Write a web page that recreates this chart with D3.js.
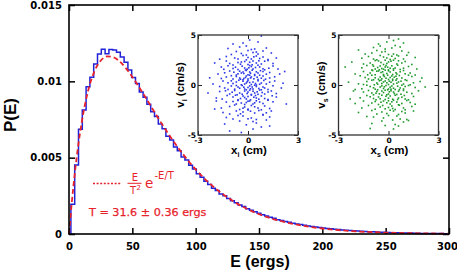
<!DOCTYPE html>
<html>
<head>
<meta charset="utf-8">
<script src="https://cdn.jsdelivr.net/npm/d3@7"></script>
<style>
body { margin: 0; background: #fff; }
svg { display: block; }
</style>
</head>
<body>
<div id="chart"></div>
<script>
// energy histogram, 3 erg bins starting at 1.5 ergs
const binStart = 1.5, binWidth = 3
const histP = [
  0.00195, 0.00452, 0.00686, 0.00812, 0.00965, 0.01026, 0.01113, 0.01179, 0.01210, 0.01180,
  0.01208, 0.01205, 0.01190, 0.01160, 0.01125, 0.01075, 0.01025, 0.00985, 0.00930, 0.00895,
  0.00850, 0.00800, 0.00770, 0.00720, 0.00690, 0.00640, 0.00615, 0.00570, 0.00545, 0.00505,
  0.00485, 0.00450, 0.00425, 0.00395, 0.00372, 0.00345, 0.00325, 0.00300, 0.00285, 0.00262,
  0.00250, 0.00232, 0.00218, 0.00205, 0.00190, 0.00180, 0.00166, 0.00156, 0.00145, 0.00136,
  0.00126, 0.00118, 0.00109, 0.00103, 0.00094, 0.00089, 0.00082, 0.00077, 0.00071, 0.00066,
  0.00062, 0.00057, 0.00053, 0.00049, 0.00046, 0.00042, 0.00040, 0.00036, 0.00034, 0.00031,
  0.00029, 0.00027, 0.00025, 0.00023, 0.00021, 0.00019, 0.00018, 0.00016, 0.00015, 0.00014,
  0.00013, 0.00012, 0.00011, 0.00010, 0.00009, 0.00008, 0.00008, 0.00007, 0.00006, 0.00006,
  0.00005, 0.00005, 0.00004, 0.00004, 0.00004, 0.00003, 0.00003, 0.00003, 0.00002
]

// fitted curve (red dashed)
const fitE = [0, 2, 5, 10, 15, 20, 25, 30, 35, 40, 45, 50, 60, 70, 80, 90, 100, 110, 120, 130, 140, 150, 160, 170, 180, 190, 200, 220, 240, 260, 280, 300]
const fitP = [0, 0.00188, 0.00428, 0.00730, 0.00935, 0.01064, 0.01135, 0.01163, 0.01158, 0.01130, 0.01085, 0.01029, 0.00900, 0.00765, 0.00637, 0.00523, 0.00423, 0.00339, 0.00270, 0.00213, 0.00167, 0.00130, 0.00101, 0.00079, 0.00061, 0.00047, 0.00036, 0.00021, 0.00012, 0.00007, 0.00004, 0.00002]

const xTicks = [0, 50, 100, 150, 200, 250, 300]
const yTicks = [0, 0.005, 0.01, 0.015]
const yTickLabels = ["0", "0.005", "0.01", "0.015"]

const insetXTicks = [-3, 0, 3]
const insetYTicks = [-5, 0, 5]

// inset scatter points, x (cm), v (cm/s) pairs
const scatterI = [
  0.8,4.9, -0.3,4.2, 0.1,4.5, 0.6,4.3, -0.9,4.1,
  0.4,3.6, -0.5,3.8, 1.1,3.7, -0.1,3.9, 0.2,3.55, -1.2,3.65,
  0.6,3.1, -0.1,3.0, -0.7,3.35, 0.9,3.4, 0.3,3.25, -0.4,3.15, 1.4,3.2, -1.0,3.05, 0.0,3.45, 0.5,3.3,
  0.9,2.8, -0.8,2.7, 0.2,2.6, 1.2,2.55, -0.3,2.95, 0.5,2.9, -1.3,2.85, 0.0,2.75, -0.6,2.6, 1.7,2.7, 0.7,2.65, -0.1,2.52, -1.7,2.58, 0.35,2.82,
  -1.3,2.4, 1.2,2.45, -0.4,2.3, 0.5,2.2, 0.0,2.05, -0.9,2.0, 1.5,2.15, -0.2,2.35, 0.8,2.1, -0.6,2.25, 0.3,2.4, -1.1,2.15, 0.1,2.28, 1.0,2.38, -0.45,2.08, 0.65,2.42, -2.0,2.2, 0.25,2.02,
  1.5,1.9, -1.6,1.8, 0.7,1.8, -0.2,1.7, 0.3,1.6, -0.6,1.55, 1.0,1.52, -0.9,1.65, 0.1,1.95, -0.35,1.88, 0.45,1.75, 1.25,1.68, -1.2,1.92, 0.9,1.62, -0.05,1.58, -0.75,1.78, 0.2,1.85, 1.8,1.6, -1.45,1.57, 0.6,1.98, -0.15,1.5, 0.05,1.72,
  -1.1,1.4, 0.1,1.3, 0.6,1.2, -0.4,1.2, -1.8,1.1, 1.9,1.1, -0.7,1.0, 0.4,1.05, -0.1,1.45, 0.9,1.35, -0.5,1.38, 1.3,1.25, 0.25,1.48, -0.85,1.28, 0.75,1.43, -0.25,1.15, 0.0,1.02, 1.1,1.08, -1.4,1.22, 0.5,1.32, -0.6,1.12, 0.15,1.18, 2.2,1.35, -0.3,1.3,
  -0.1,0.9, 0.9,0.9, -1.3,0.8, 0.2,0.8, -0.5,0.7, 1.3,0.7, 0.0,0.6, -0.9,0.6, 0.6,0.55, -0.3,0.52, 0.4,0.95, -0.7,0.85, 1.6,0.82, -1.6,0.65, 0.35,0.62, -0.15,0.75, 0.8,0.68, -1.0,0.93, 0.1,0.98, -0.45,0.58, 1.05,0.58, 0.55,0.78, -0.25,0.65, 0.7,0.98, -2.3,0.72, 0.15,0.7,
  1.6,0.4, -1.5,0.4, 0.3,0.3, -0.7,0.3, 0.8,0.2, -0.1,0.2, -2.1,0.1, 1.1,0.1, 0.5,0.0, -0.4,0.02, 0.0,0.45, -0.9,0.15, 0.2,0.05, -0.3,0.38, 0.6,0.42, 1.3,0.28, -1.2,0.22, 0.1,0.25, -0.55,0.48, 0.95,0.46, -0.2,0.1, 0.45,0.15, -1.0,0.42, 0.7,0.08, -0.05,0.33, 2.1,0.18,
  -1.0,-0.1, 0.1,-0.1, 0.9,-0.2, -0.6,-0.2, 2.0,-0.3, -1.4,-0.3, 0.3,-0.4, -0.2,-0.4, 0.0,-0.25, 0.5,-0.15, -0.35,-0.05, 1.2,-0.45, -0.8,-0.42, 0.65,-0.35, -0.1,-0.48, 0.25,-0.2, -1.7,-0.15, 1.5,-0.08, -0.5,-0.32, 0.8,-0.48, 0.4,-0.02, -0.25,-0.22, 1.0,-0.3, -1.2,-0.45, 0.15,-0.38, -0.7,-0.05,
  0.7,-0.5, -0.8,-0.55, 1.4,-0.6, -1.7,-0.65, 0.0,-0.7, 0.4,-0.8, -0.5,-0.8, 1.0,-0.9, -1.1,-0.9, 0.2,-0.95, -0.2,-0.6, 0.55,-0.68, -0.35,-0.92, 0.85,-0.75, -0.95,-0.72, 0.1,-0.52, 1.7,-0.85, -1.35,-0.58, 0.3,-0.62, -0.65,-0.98, 0.6,-0.93, -0.05,-0.85, 1.2,-0.7, -2.4,-0.8,
  0.2,-1.0, -0.3,-1.1, 0.8,-1.1, -0.9,-1.2, 1.7,-1.2, -1.9,-1.3, 0.5,-1.3, -0.1,-1.4, 1.2,-1.45, -0.6,-1.48, 0.35,-1.22, -0.45,-1.35, 0.0,-1.15, 1.0,-1.35, -1.25,-1.05, 0.65,-1.42, -0.2,-1.25, 0.15,-1.48, -0.75,-1.02, 1.45,-1.08, -1.55,-1.4, 0.45,-1.05,
  0.1,-1.6, -1.3,-1.7, 0.7,-1.7, -0.4,-1.8, 2.3,-1.9, 0.3,-1.9, -0.6,-1.55, 1.2,-1.52, -0.1,-1.75, 0.5,-1.58, -0.9,-1.65, 0.9,-1.85, -0.2,-1.95, 1.5,-1.68, -1.9,-1.6, 0.0,-1.62, -0.7,-1.9, 0.4,-1.78,
  -0.8,-2.0, 1.0,-2.1, -0.2,-2.2, -1.6,-2.3, 0.6,-2.3, -2.0,-2.4, 0.2,-2.05, -0.5,-2.45, 1.3,-2.35, 0.0,-2.42, -1.1,-2.15, 0.8,-2.48, 0.4,-2.18, -0.3,-2.32,
  0.0,-2.5, 1.4,-2.6, -0.7,-2.6, 0.4,-2.8, -1.1,-2.9, 0.9,-2.95, -0.3,-2.7, 0.15,-2.62, -1.5,-2.75, 0.65,-2.55, -0.45,-2.88, 1.1,-2.78,
  0.9,-3.0, -0.3,-3.1, 0.2,-3.3, -0.9,-3.4, 1.3,-3.2, 0.5,-3.45, -0.6,-3.05, -1.3,-3.25, 0.0,-3.38,
  1.1,-3.5, -0.5,-3.6, 0.5,-3.8, -1.4,-3.9, -0.1,-3.98, 0.3,-3.65,
  0.8,-4.2, -1.1,-4.6, 0.3,-4.4, 1.3,-4.1, -0.4,-4.75
]

const scatterS = [
  0.6,4.6, -0.1,4.3, 0.3,4.45, -0.6,4.1, 0.9,4.2,
  -0.5,3.9, 0.2,3.7, -1.8,3.5, 0.7,3.8, -0.2,3.6, 0.4,3.95, -0.9,3.75,
  -0.4,3.3, 0.3,3.1, -1.0,3.2, 0.8,3.4, 0.0,3.05, -0.7,3.45, 1.2,3.25, -0.2,3.35, 0.5,3.0, -1.4,3.1,
  -0.3,2.8, 0.6,2.9, -0.9,2.6, 1.6,2.75, 0.1,2.55, -0.5,2.95, 0.4,2.65, -1.2,2.85, 0.9,2.6, -0.1,2.7, -0.7,2.52, 0.2,2.88, 1.1,2.98, -1.6,2.68,
  -0.6,2.4, 0.0,2.3, -1.1,2.2, 0.5,2.1, -0.3,2.05, 1.0,2.35, -0.8,2.45, 0.3,2.48, -1.5,2.1, 0.8,2.2, -0.1,2.15, -0.45,2.25, 1.4,2.05, 0.15,2.38, -0.95,2.02, 0.6,2.42, -2.2,2.3, -0.2,2.48,
  -0.5,1.9, -0.2,1.8, 0.4,1.7, -0.8,1.6, -1.3,1.95, 0.7,1.55, -0.4,1.65, 0.0,1.52, -0.65,1.75, 1.2,1.85, -1.0,1.5, 0.2,1.92, -0.3,1.58, 0.9,1.68, -1.6,1.72, -0.05,1.78, 0.55,1.98, -0.9,1.88, -2.6,1.8, 0.3,1.62, -0.55,1.52, 1.7,1.6, -0.15,1.95, 0.1,1.68,
  -0.6,1.4, 0.1,1.3, -1.1,1.2, 0.5,1.1, -0.3,1.05, 0.9,1.45, -0.8,1.02, 0.3,1.48, -1.5,1.35, 1.3,1.2, -0.1,1.15, -0.45,1.25, 0.7,1.32, -2.0,1.1, 0.0,1.42, -0.7,1.38, 1.6,1.0, 0.25,1.05, -0.2,1.48, -1.25,1.02, 0.45,1.22, -0.95,1.45, 1.0,1.12, -0.35,1.32,
  0.2,0.9, -0.5,0.8, 0.8,0.7, -1.2,0.6, 0.0,0.55, -0.3,0.95, 1.4,0.85, 0.5,0.62, -0.8,0.72, -1.7,0.92, 0.35,0.78, -0.15,0.68, 1.0,0.52, -0.6,0.58, 0.1,0.75, -1.0,0.98, 0.65,0.95, -0.4,0.62, 2.0,0.7, -0.9,0.52, 0.25,0.58, -0.25,0.85, 1.2,0.98, -1.4,0.75, 0.45,0.88, -0.05,0.98,
  -0.2,0.4, 0.6,0.3, -0.7,0.2, 0.3,0.1, -1.3,0.35, 1.1,0.45, 0.0,0.05, -0.4,0.15, 0.9,0.1, -1.0,0.48, 0.15,0.28, -0.55,0.42, 1.5,0.22, -1.8,0.12, 0.45,0.48, -0.1,0.22, 0.75,0.38, -0.85,0.02, 0.25,0.45, -0.3,0.3, 1.9,0.35, -2.4,0.28, 0.05,0.38, -0.65,0.08, 1.3,0.02, 0.5,0.18, -1.5,0.05, -0.45,0.48,
  0.2,-0.1, -0.5,-0.2, 0.7,-0.3, -1.1,-0.15, 0.0,-0.4, 1.2,-0.05, -0.3,-0.35, 0.4,-0.45, -0.8,-0.42, 1.6,-0.25, -1.6,-0.38, 0.1,-0.22, -0.15,-0.05, 0.55,-0.12, -0.65,-0.48, 0.9,-0.4, -1.3,-0.02, 0.3,-0.32, -0.4,-0.08, 2.2,-0.2, -0.05,-0.48, 0.8,-0.02, -0.9,-0.28, 0.65,-0.48, -2.0,-0.45, -0.25,-0.18, 1.0,-0.15, 0.15,-0.42,
  -0.4,-0.6, 0.3,-0.7, -1.0,-0.8, 0.9,-0.55, 0.0,-0.9, -0.7,-0.65, 1.4,-0.85, -1.5,-0.7, 0.5,-0.95, -0.2,-0.52, 0.6,-0.62, -0.9,-0.98, 0.15,-0.58, -0.55,-0.88, 1.1,-0.72, -2.1,-0.6, 0.35,-0.85, -0.3,-0.75, 0.75,-0.92, -1.2,-0.55, 0.05,-0.68, 1.8,-0.58, -0.1,-0.98, -0.75,-0.82,
  0.1,-1.1, -0.6,-1.2, 0.6,-1.3, -1.3,-1.05, 1.0,-1.4, -0.2,-1.45, 0.4,-1.02, -0.9,-1.35, 1.5,-1.15, -1.7,-1.28, -0.4,-1.02, 0.8,-1.22, 0.0,-1.32, -0.75,-1.48, 0.25,-1.42, -1.1,-1.18, 1.2,-1.48, -0.15,-1.12, 0.55,-1.45, -2.3,-1.4, 0.95,-1.05, -0.5,-1.38,
  -0.3,-1.6, 0.5,-1.7, -1.0,-1.8, 0.1,-1.9, 1.1,-1.55, -0.6,-1.95, 0.8,-1.85, -1.5,-1.6, 0.3,-1.52, -0.1,-1.78, 1.6,-1.92, -0.8,-1.65, 0.6,-1.98, -2.0,-1.85, 0.0,-1.58, -0.45,-1.72, 1.3,-1.75, 0.2,-1.68,
  0.2,-2.1, -0.5,-2.2, 0.9,-2.3, -1.2,-2.05, 0.4,-2.45, -0.2,-2.38, 1.4,-2.15, -0.8,-2.42, 0.0,-2.25, 0.65,-2.02, -1.6,-2.3, -0.35,-2.05, 1.0,-2.48, 0.25,-2.35,
  0.3,-2.6, -0.4,-2.7, 1.0,-2.8, -1.0,-2.55, 0.6,-2.95, -0.1,-2.85, 1.5,-2.6, -0.7,-2.9, 0.1,-2.52, -1.8,-2.75, 0.8,-2.65,
  0.5,-3.1, -0.3,-3.3, 1.1,-3.45, -0.9,-3.2, 0.0,-3.05, 0.7,-3.4, -1.3,-3.15, 0.25,-3.5,
  0.9,-3.7, -0.4,-3.6, 0.4,-3.95, -1.0,-3.85, 1.2,-3.55,
  0.6,-4.1, -1.1,-4.35, 0.3,-4.4, -0.2,-4.05
]

const width = 457, height = 272
const red = "#e8222b", blue = "#2121d8"
const tickFont = "DejaVu Sans, sans-serif"
const titleFont = "Liberation Sans, Arial, sans-serif"

const svg = d3.select("#chart").append("svg")
    .attr("width", width)
    .attr("height", height)

const x = d3.scaleLinear().domain([0, 300]).range([69, 449])
const y = d3.scaleLinear().domain([0, 0.015]).range([234, 5])

function styleAxis(g) {
    g.select(".domain").remove()
    g.attr("font-family", tickFont).attr("font-size", 10).attr("font-weight", "bold")
    g.selectAll(".tick line").attr("stroke", "#000").attr("stroke-width", 1.5)
    g.selectAll(".tick text").attr("fill", "#000")
}

svg.append("g").attr("transform", "translate(0,234)")
    .call(d3.axisBottom(x).tickValues(xTicks).tickSizeInner(-6).tickSizeOuter(0).tickPadding(9)
        .tickFormat(d => String(d)))
    .call(styleAxis)
    .call(g => g.selectAll(".tick text").filter(d => d === 300).attr("dx", -2))
svg.append("g").attr("transform", "translate(0,5)")
    .call(d3.axisTop(x).tickValues(xTicks).tickSizeInner(-6).tickSizeOuter(0).tickFormat(""))
    .call(styleAxis)
svg.append("g").attr("transform", "translate(69,0)")
    .call(d3.axisLeft(y).tickValues(yTicks).tickSizeInner(-6).tickSizeOuter(0).tickPadding(7)
        .tickFormat((d, i) => yTickLabels[i]))
    .call(styleAxis)
svg.append("g").attr("transform", "translate(449,0)")
    .call(d3.axisRight(y).tickValues(yTicks).tickSizeInner(-6).tickSizeOuter(0).tickFormat(""))
    .call(styleAxis)

// histogram as a step line
let steps = [[binStart, 0]]
histP.forEach((p, i) => steps.push([binStart + i * binWidth, p]))
steps.push([binStart + histP.length * binWidth, histP[histP.length - 1]])

svg.append("path")
    .datum(steps)
    .attr("fill", "none")
    .attr("stroke", blue)
    .attr("stroke-width", 1.5)
    .attr("d", d3.line().x(d => x(d[0])).y(d => y(d[1])).curve(d3.curveStepAfter))

svg.append("path")
    .datum(fitE.map((e, i) => [e, fitP[i]]))
    .attr("fill", "none")
    .attr("stroke", red)
    .attr("stroke-width", 1.8)
    .attr("stroke-dasharray", "5,3")
    .attr("d", d3.line().x(d => x(d[0])).y(d => y(d[1])).curve(d3.curveMonotoneX))

// frame
svg.append("rect")
    .attr("x", 69).attr("y", 5)
    .attr("width", 380).attr("height", 229)
    .attr("fill", "none").attr("stroke", "#000").attr("stroke-width", 1.6)

// axis titles
svg.append("text")
    .attr("x", 260).attr("y", 267)
    .attr("text-anchor", "middle")
    .attr("font-family", titleFont).attr("font-weight", "bold").attr("font-size", 16)
    .text("E (ergs)")
svg.append("text")
    .attr("transform", "translate(16,115) rotate(-90)")
    .attr("text-anchor", "middle")
    .attr("font-family", titleFont).attr("font-weight", "bold").attr("font-size", 17)
    .text("P(E)")

// legend
svg.append("line")
    .attr("x1", 93).attr("x2", 121).attr("y1", 183.5).attr("y2", 183.5)
    .attr("stroke", red).attr("stroke-width", 1.4).attr("stroke-dasharray", "2,1.6")
const legend = svg.append("g").attr("fill", red).attr("font-family", tickFont)
legend.append("text").attr("x", 135).attr("y", 180.5).attr("text-anchor", "middle")
    .attr("font-size", 10).text("E")
legend.append("line").attr("x1", 127.5).attr("x2", 141.5).attr("y1", 183.3).attr("y2", 183.3)
    .attr("stroke", red).attr("stroke-width", 1)
legend.append("text").attr("x", 133).attr("y", 194).attr("text-anchor", "middle")
    .attr("font-size", 10).text("T")
legend.append("text").attr("x", 136.5).attr("y", 190).attr("font-size", 7).text("2")
legend.append("text").attr("x", 145).attr("y", 188).attr("font-size", 13.5).text("e")
legend.append("text").attr("x", 154.5).attr("y", 178.5).attr("font-size", 10).text("-E/T")
legend.append("text").attr("x", 89).attr("y", 216).attr("font-size", 11.2)
    .attr("stroke", red).attr("stroke-width", 0.25)
    .text("T = 31.6 ± 0.36 ergs")

// insets
function drawInset(left, pts, color, sub) {
    const ix = d3.scaleLinear().domain([-3, 3]).range([left, left + 100])
    const iy = d3.scaleLinear().domain([-5, 5]).range([135, 35])
    const g = svg.append("g")
    g.append("rect").attr("x", left).attr("y", 35).attr("width", 100).attr("height", 100)
        .attr("fill", "#fff")

    const pairs = d3.range(0, pts.length, 2).map(i => [pts[i], pts[i + 1]])
    g.selectAll("rect.dot").data(pairs).join("rect")
        .attr("class", "dot")
        .attr("x", d => ix(d[0]) - 0.8)
        .attr("y", d => iy(d[1]) - 0.8)
        .attr("width", 1.6).attr("height", 1.6)
        .attr("fill", color)

    const st = a => {
        a.select(".domain").remove()
        a.attr("font-family", tickFont).attr("font-size", 7.5).attr("font-weight", "bold")
        a.selectAll(".tick line").attr("stroke", "#222").attr("stroke-width", 1)
    }
    g.append("g").attr("transform", "translate(0,135)")
        .call(d3.axisBottom(ix).tickValues(insetXTicks).tickSizeInner(-4).tickSizeOuter(0).tickPadding(3)
            .tickFormat(d => String(d)))
        .call(st)
    g.append("g").attr("transform", "translate(0,35)")
        .call(d3.axisTop(ix).tickValues(insetXTicks).tickSizeInner(-4).tickSizeOuter(0).tickFormat(""))
        .call(st)
    g.append("g").attr("transform", `translate(${left},0)`)
        .call(d3.axisLeft(iy).tickValues(insetYTicks).tickSizeInner(-4).tickSizeOuter(0).tickPadding(2)
            .tickFormat(d => String(d)))
        .call(st)
    g.append("g").attr("transform", `translate(${left + 100},0)`)
        .call(d3.axisRight(iy).tickValues(insetYTicks).tickSizeInner(-4).tickSizeOuter(0).tickFormat(""))
        .call(st)

    g.append("rect").attr("x", left).attr("y", 35).attr("width", 100).attr("height", 100)
        .attr("fill", "none").attr("stroke", "#333").attr("stroke-width", 1.3)

    const vt = g.append("text")
        .attr("transform", `translate(${left - 14},85) rotate(-90)`)
        .attr("text-anchor", "middle")
        .attr("font-family", titleFont).attr("font-weight", "bold").attr("font-size", 11.5)
    vt.append("tspan").text("v")
    vt.append("tspan").attr("dy", 3).attr("font-size", 7).text(sub)
    vt.append("tspan").attr("dy", -3).text(" (cm/s)")

    const xt = g.append("text")
        .attr("x", left + 51).attr("y", 154)
        .attr("text-anchor", "middle")
        .attr("font-family", titleFont).attr("font-weight", "bold").attr("font-size", 11.5)
    xt.append("tspan").text("x")
    xt.append("tspan").attr("dy", 3).attr("font-size", 7).text(sub)
    xt.append("tspan").attr("dy", -3).text(" (cm)")
}

drawInset(198, scatterI, "#2a36e6", "i")
drawInset(338.5, scatterS, "#1f9a2c", "s")
</script>
</body>
</html>
